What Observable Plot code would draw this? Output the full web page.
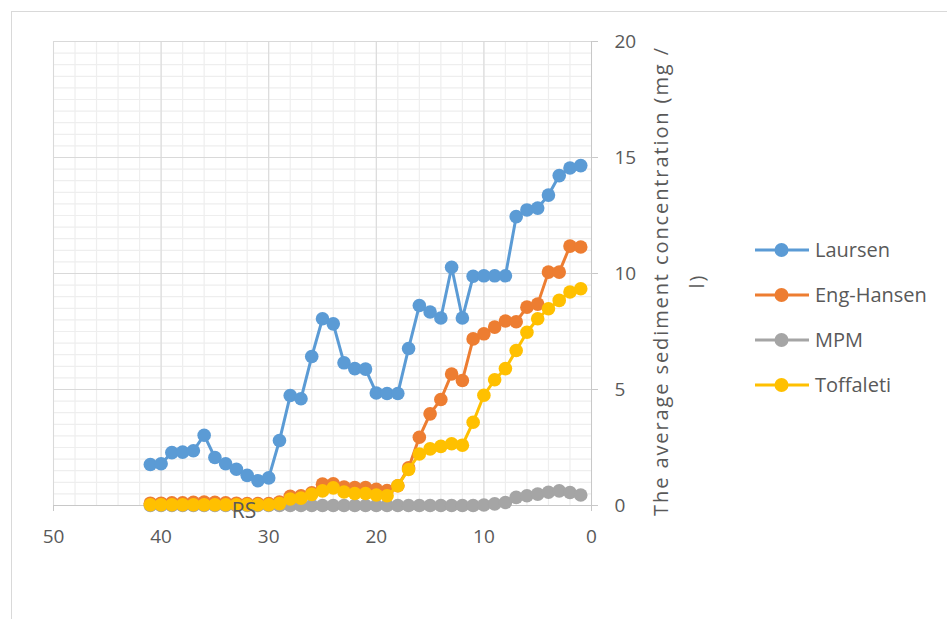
<!DOCTYPE html>
<html>
<head>
<meta charset="utf-8">
<script src="https://cdn.jsdelivr.net/npm/d3@7"></script>
<script src="https://cdn.jsdelivr.net/npm/@observablehq/plot@0.6"></script>
<style>
  html, body { margin: 0; padding: 0; background: #fff; overflow: hidden; }
  body { width: 947px; height: 619px; position: relative; font-family: "Open Sans", sans-serif; color: #595959; }
  #frame { position: absolute; left: 11px; top: 11px; width: 1000px; height: 1000px; border: 1px solid #d9d9d9; }
  #chart { position: absolute; left: 0; top: 0; }
  #chart g[aria-label$="-axis tick"] { stroke: #c8c8c8; }
  #chart g[aria-label$="-axis"] line, #chart g[aria-label$="-axis"] path.domain { stroke: #c8c8c8; }
  #ytitle { position: absolute; left: 439px; top: 245px; width: 480px; height: 72px; text-align: center;
            transform: rotate(-90deg); font-size: 20px; line-height: 36px;
            letter-spacing: 1.9px; white-space: pre; color: #595959; }
  #legend { position: absolute; left: 755px; top: 227px; }
  .item { display: flex; align-items: center; height: 45px; font-size: 20px; color: #595959; }
  .item svg { margin-right: 6px; }
</style>
</head>
<body>
<div id="frame"></div>
<div id="chart"></div>
<div id="ytitle"></div>
<div id="legend"></div>
<script>
// Cross-section stations (distance index), plotted on a reversed axis
const stations = [41, 40, 39, 38, 37, 36, 35, 34, 33, 32, 31, 30, 29, 28, 27, 26, 25, 24, 23, 22, 21,
                  20, 19, 18, 17, 16, 15, 14, 13, 12, 11, 10, 9, 8, 7, 6, 5, 4, 3, 2, 1];

// Average sediment concentration (mg/l) by transport formula
const laursen = [1.77, 1.8, 2.28, 2.3, 2.36, 3.03, 2.07, 1.8, 1.56, 1.3, 1.07, 1.19, 2.8, 4.74, 4.6, 6.42,
                 8.05, 7.83, 6.15, 5.9, 5.88, 4.85, 4.83, 4.83, 6.77, 8.62, 8.34, 8.08, 10.27, 8.08, 9.88,
                 9.9, 9.9, 9.9, 12.45, 12.74, 12.82, 13.38, 14.22, 14.55, 14.65];
const engHansen = [0.1, 0.1, 0.12, 0.12, 0.14, 0.15, 0.14, 0.12, 0.1, 0.08, 0.08, 0.08, 0.15, 0.4, 0.42, 0.55,
                   0.92, 0.94, 0.8, 0.77, 0.77, 0.7, 0.64, 0.85, 1.62, 2.94, 3.95, 4.57, 5.67, 5.39, 7.18,
                   7.4, 7.69, 7.95, 7.92, 8.55, 8.68, 10.06, 10.06, 11.18, 11.14];
const mpm = [0, 0, 0, 0, 0, 0, 0, 0, 0, 0, 0, 0, 0, 0, 0, 0, 0, 0, 0, 0, 0, 0, 0, 0, 0, 0, 0, 0, 0, 0, 0,
             0.02, 0.07, 0.13, 0.35, 0.42, 0.49, 0.57, 0.63, 0.56, 0.45];
const toffaleti = [0.03, 0.03, 0.03, 0.03, 0.03, 0.03, 0.03, 0.03, 0.03, 0.03, 0.03, 0.03, 0.08, 0.28, 0.32, 0.48,
                   0.63, 0.76, 0.58, 0.52, 0.52, 0.45, 0.42, 0.85, 1.55, 2.22, 2.44, 2.55, 2.66, 2.6, 3.59,
                   4.75, 5.42, 5.9, 6.68, 7.47, 8.05, 8.48, 8.84, 9.2, 9.34];

const seriesNames = ["Laursen", "Eng-Hansen", "MPM", "Toffaleti"];
const seriesColors = ["#5B9BD5", "#ED7D31", "#A5A5A5", "#FFC000"];
const seriesValues = [laursen, engHansen, mpm, toffaleti];

const xTicks = [50, 40, 30, 20, 10, 0];
const yTicks = [0, 5, 10, 15, 20];
const xMinor = d3.range(0, 51, 2);
const yMinor = d3.range(0, 20.01, 0.5);
const axisTitle = "The average sediment concentration (mg /\nl)";
const stationLabel = "RS";

const rows = seriesNames.map((name, i) =>
  stations.map((s, j) => ({series: name, station: s, value: seriesValues[i][j]})));

const seriesMarks = rows.flatMap((data, i) => [
  Plot.line(data, {x: "station", y: "value", stroke: seriesColors[i], strokeWidth: 3}),
  Plot.dot(data, {x: "station", y: "value", fill: seriesColors[i], r: 6.8, stroke: "none"})
]);

const chart = Plot.plot({
  width: 947,
  height: 619,
  marginLeft: 53,
  marginRight: 356,
  marginTop: 41,
  marginBottom: 114,
  style: {fontFamily: "Open Sans, sans-serif", fontSize: "19px", color: "#595959", background: "transparent"},
  x: {domain: [50, 0], ticks: xTicks, tickSize: 6, tickPadding: 18, label: null},
  y: {domain: [0, 20], ticks: yTicks, tickSize: 6, tickPadding: 17, label: null, axis: "right"},
  marks: [
    Plot.ruleX(xMinor, {stroke: "#eeeeee", strokeWidth: 1.2}),
    Plot.ruleY(yMinor, {stroke: "#eeeeee", strokeWidth: 1.2}),
    Plot.ruleX(d3.range(0, 51, 10), {stroke: "#d9d9d9", strokeWidth: 1}),
    Plot.ruleY(d3.range(0, 21, 5), {stroke: "#d9d9d9", strokeWidth: 1}),
    Plot.ruleY([0], {stroke: "#c8c8c8", strokeWidth: 1}),
    Plot.ruleX([0], {stroke: "#c8c8c8", strokeWidth: 1}),
    ...seriesMarks,
    Plot.text([stationLabel], {x: 32.3, y: 0, dy: 6, text: d => d, fontSize: 21, fill: "#595959"})
  ]
});
document.getElementById("chart").appendChild(chart);

document.getElementById("ytitle").textContent = axisTitle;

const legend = document.getElementById("legend");
seriesNames.forEach((name, i) => {
  const item = document.createElement("div");
  item.className = "item";
  item.innerHTML = `<svg width="54" height="16"><line x1="0" x2="54" y1="8" y2="8" stroke="${seriesColors[i]}" stroke-width="3"/>` +
    `<circle cx="26.5" cy="8" r="7" fill="${seriesColors[i]}"/></svg><span>${name}</span>`;
  legend.appendChild(item);
});
</script>
</body>
</html>
